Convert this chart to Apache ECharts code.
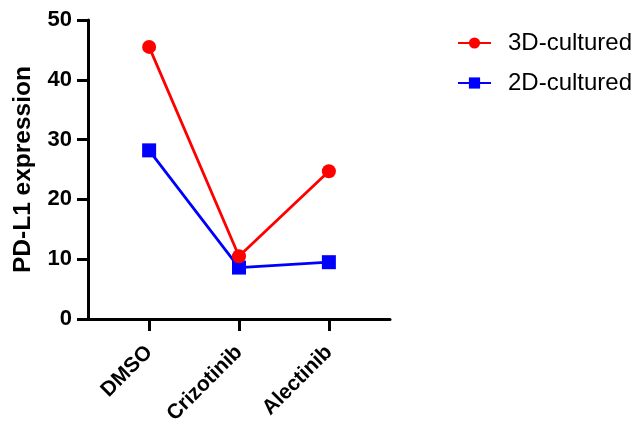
<!DOCTYPE html>
<html><head><meta charset="utf-8">
<script src="https://cdn.jsdelivr.net/npm/echarts@6/dist/echarts.min.js"></script>
<style>html,body{margin:0;padding:0;background:#fff}#c{width:635px;height:421px}</style>
</head><body><div id="c"></div>
<script>
var categories = ["DMSO", "Crizotinib", "Alectinib"];
var values3D = [45.5, 10.5, 24.7];
var values2D = [28.2, 8.6, 9.5];
var yTicks = [0, 10, 20, 30, 40, 50];

function pairs(vals){ return vals.map(function(v,i){ return [i, v]; }); }

var chart = echarts.init(document.getElementById('c'));
var font = 'Liberation Sans, Arial, sans-serif';
chart.setOption({
  animation: false,
  grid: {left: 88, right: 245, top: 20, bottom: 102, containLabel: false, outerBoundsMode: 'none'},
  legend: {
    orient: 'vertical', left: 452, top: 26, itemWidth: 33, itemHeight: 14, itemGap: 16,
    textStyle: {fontFamily: font, fontSize: 24, color: '#000', lineHeight: 24, padding: [0,0,0,12]},
    data: ['3D-cultured', '2D-cultured']
  },
  xAxis: {
    type: 'value', min: -0.68, max: 2.68,
    splitLine: {show: false},
    axisLine: {show: true, onZero: false, lineStyle: {color: '#000', width: 3}},
    axisTick: {show: true, length: 12, customValues: [0,1,2], lineStyle: {color: '#000', width: 3}},
    axisLabel: {
      customValues: [0,1,2], rotate: 45, margin: 30,
      formatter: function(v){ return categories[Math.round(v)]; },
      fontFamily: font, fontSize: 21, fontWeight: 'bold', color: '#000'
    }
  },
  yAxis: {
    type: 'value', min: yTicks[0], max: yTicks[yTicks.length-1], interval: 10,
    name: 'PD-L1 expression', nameLocation: 'middle', nameGap: 52,
    nameTextStyle: {fontFamily: font, fontSize: 24.5, fontWeight: 'bold', color: '#000'},
    splitLine: {show: false},
    axisLine: {show: true, onZero: false, lineStyle: {color: '#000', width: 3}},
    axisTick: {show: true, length: 11, lineStyle: {color: '#000', width: 3}},
    axisLabel: {margin: 16, fontFamily: font, fontSize: 22, fontWeight: 'bold', color: '#000'}
  },
  series: [
    {name: '3D-cultured', type: 'line', data: pairs(values3D), symbol: 'circle', symbolSize: 14,
     lineStyle: {color: '#ff0000', width: 2.8}, itemStyle: {color: '#ff0000'}, z: 3},
    {name: '2D-cultured', type: 'line', data: pairs(values2D), symbol: 'rect', symbolSize: 14,
     lineStyle: {color: '#0000ff', width: 2.8}, itemStyle: {color: '#0000ff'}, z: 2}
  ]
});
</script></body></html>
